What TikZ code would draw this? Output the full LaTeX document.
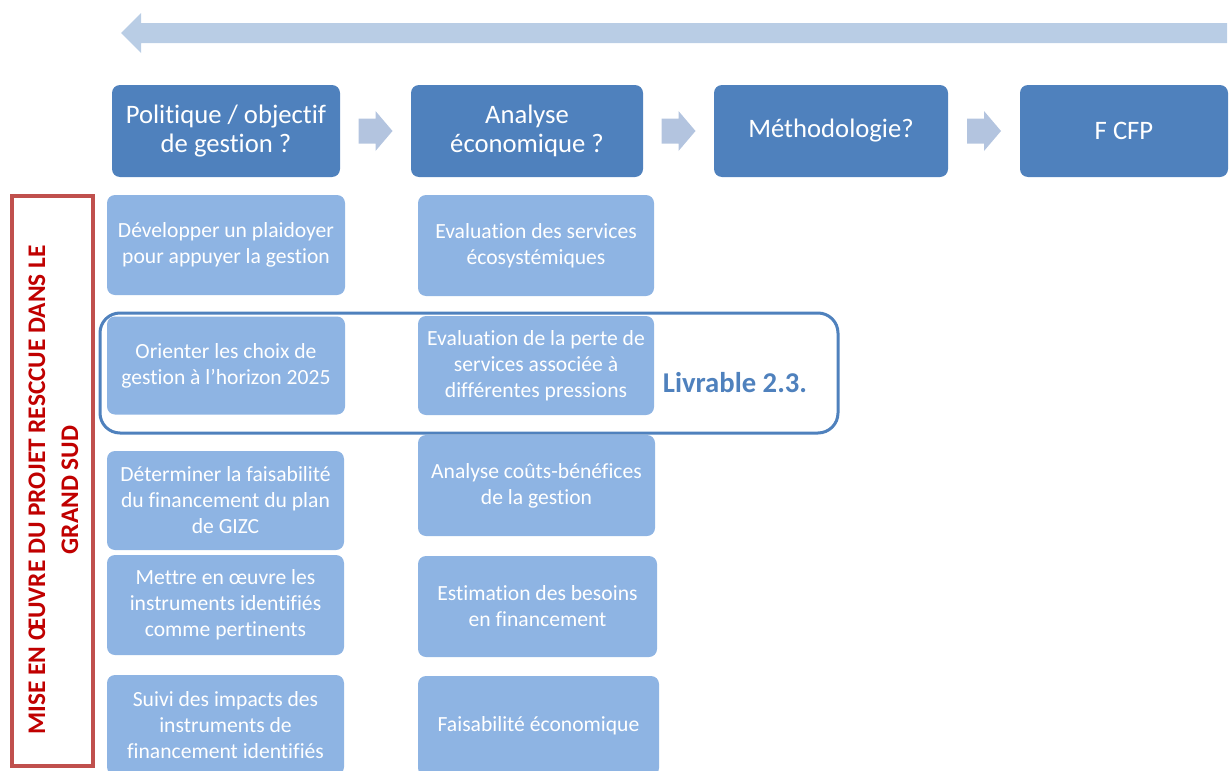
\documentclass[tikz,border=0pt]{standalone}
\usepackage{fontspec}
\setmainfont{Carlito}[Ligatures=NoCommon]
\usetikzlibrary{positioning}
\definecolor{hdrColor}{HTML}{4F81BD}
\definecolor{itemColor}{HTML}{8EB4E3}
\definecolor{barColor}{HTML}{B9CDE5}
\definecolor{chevColor}{HTML}{B3C4DF}
\definecolor{frameColor}{HTML}{C0504D}
\definecolor{miseColor}{HTML}{C00000}
\tikzset{
	hdr/.style={fill=hdrColor, rounded corners=6pt, text=white, align=center,
		minimum height=69pt, inner sep=0, font=\fontsize{20}{21.75}\selectfont},
	item/.style={fill=itemColor, rounded corners=6pt, text=white, align=center,
		inner sep=0, font=\fontsize{16.2}{19.5}\selectfont},
	chev/.pic={\fill[chevColor] (-17,-12.5) -- (0,-12.5) -- (0,-20) -- (17,0)
		-- (0,20) -- (0,12.5) -- (-17,12.5) -- cycle;}
}

\begin{document}
\begin{tikzpicture}[x=0.75pt,y=-0.75pt]
	\useasboundingbox (0,0) rectangle (1229,771);
	% big arrow on top
	\fill[barColor] (121,33) -- (141,13) -- (141,23) -- (1227,23) -- (1227,43)
		-- (141,43) -- (141,53) -- cycle;
	% header row
	\node[hdr, minimum width=171pt] (hdr1) at (226,131) {Politique / objectif\\de gestion ?};
	\node[hdr, minimum width=174pt] (hdr2) at (527,131) {Analyse\\économique ?};
	\node[hdr, minimum width=175.5pt] (hdr3) at (831,131) {Méthodologie?};
	\node[hdr, minimum width=156pt] (hdr4) at (1124,131) {F CFP};
	\path (hdr1.east) -- (hdr2.west) coordinate[midway] (c12);
	\path (hdr2.east) -- (hdr3.west) coordinate[midway] (c23);
	\path (hdr3.east) -- (hdr4.west) coordinate[midway] (c34);
	\pic at (c12) {chev};
	\pic at (c23) {chev};
	\pic at (c34) {chev};
	% politique column
	\node[item, minimum width=178.5pt, minimum height=75pt] (pol1) at (226,245) {Développer un plaidoyer\\pour appuyer la gestion};
	\node[item, minimum width=178.5pt, minimum height=73.5pt] (pol2) at (226,365.5) {Orienter les choix de\\gestion à l’horizon 2025};
	\node[item, minimum width=177.75pt, minimum height=74.25pt] (pol3) at (225.5,500.5) {Déterminer la faisabilité\\du financement du plan\\de GIZC};
	\node[item, minimum width=177.75pt, minimum height=75pt] (pol4) at (225.5,605) {Mettre en œuvre les\\instruments identifiés\\comme pertinents};
	\node[item, minimum width=177.75pt, minimum height=75pt] (pol5) at (225.5,725) {Suivi des impacts des\\instruments de\\financement identifiés};
	% analyse column
	\node[item, minimum width=177pt, minimum height=75.75pt] (eco1) at (536,245.5) {Evaluation des services\\écosystémiques};
	\node[item, minimum width=177pt, minimum height=74.25pt] (eco2) at (536,365.5) {Evaluation de la perte de\\services associée à\\différentes pressions};
	\node[item, minimum width=177.75pt, minimum height=75.75pt] (eco3) at (536.5,485.5) {Analyse coûts-bénéfices\\de la gestion};
	\node[item, minimum width=179.25pt, minimum height=75.75pt] (eco4) at (537.5,606.5) {Estimation des besoins\\en financement};
	\node[item, minimum width=180.75pt, minimum height=75pt] (eco5) at (538.5,726) {Faisabilité économique};
	% livrable frame
	\node[draw=hdrColor, line width=2.25pt, rounded corners=15pt, minimum width=553.5pt,
		minimum height=90pt] (livframe) at (469,373) {};
	\node[text=hdrColor, font=\fontsize{21.5}{24}\selectfont\bfseries] (liv) at (735,383) {Livrable 2.3.};
	% side frame
	\node[draw=frameColor, line width=3pt, minimum width=60.75pt, minimum height=427.5pt] (miseframe) at (52.5,481) {};
	\node[rotate=90, text=miseColor, align=center, inner sep=0,
		font=\fontsize{19}{24.75}\selectfont\bfseries] (mise) at (53.5,490)
		{MISE EN ŒUVRE DU PROJET RESCCUE DANS LE\\GRAND SUD};
\end{tikzpicture}
\end{document}
